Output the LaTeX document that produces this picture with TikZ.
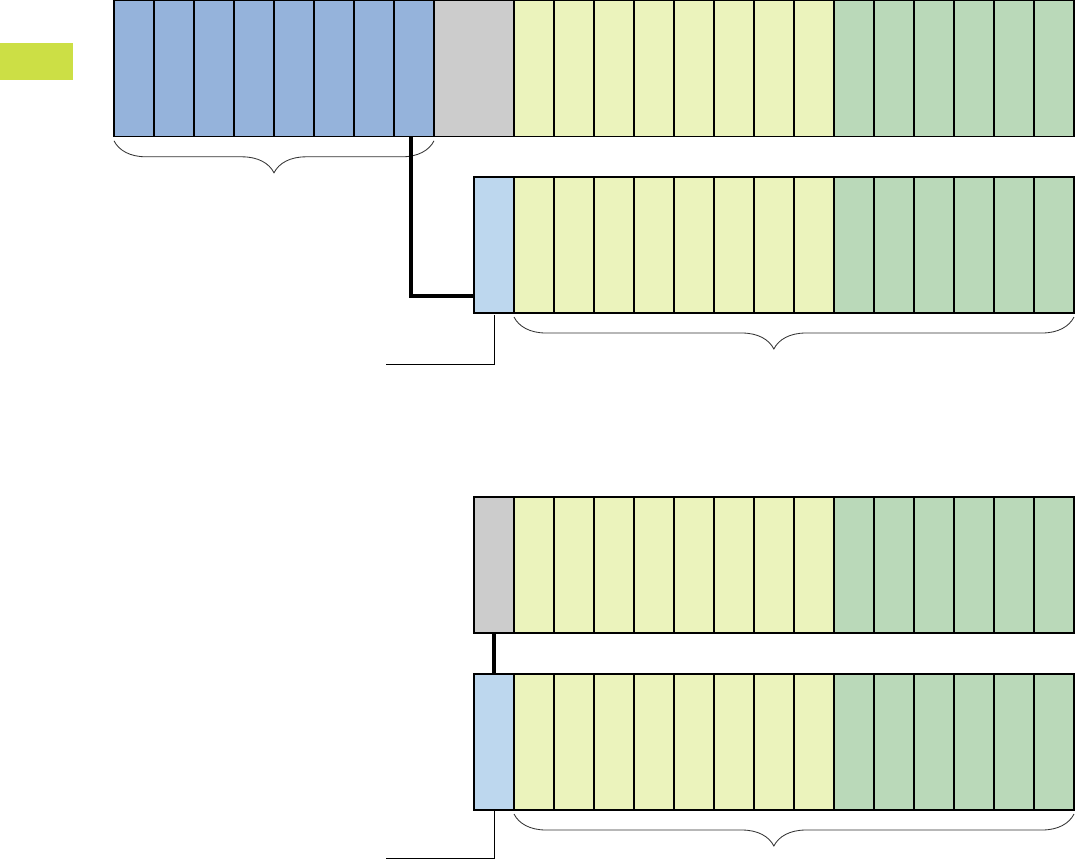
\documentclass[tikz,border=0pt]{standalone}
\usepackage{xcolor}
\definecolor{cblue}{RGB}{149,179,219}
\definecolor{lblue}{RGB}{189,215,238}
\definecolor{cgray}{RGB}{204,204,204}
\definecolor{cyellow}{RGB}{235,243,188}
\definecolor{cgreen}{RGB}{186,217,185}
\definecolor{tagcol}{RGB}{204,223,69}
\usetikzlibrary{calc,decorations.pathreplacing}

\begin{document}
\begin{tikzpicture}[
  cell/.style={rectangle,draw,line width=0.8pt,minimum width=1cm,minimum height=3.4cm,inner sep=0pt,outer sep=0pt,anchor=north west},
  link/.style={line width=2.2pt},
  lead/.style={line width=0.7pt},
  bracket/.style={decorate,decoration={brace,mirror,amplitude=0.8cm,aspect=#1},line width=0.6pt,draw=black!80},
  bracket/.default=0.5
]
  \useasboundingbox (0,0) rectangle (26.875,-21.55);

  % Marker
  \node[fill=tagcol,minimum width=1.825cm,minimum height=0.925cm,inner sep=0pt,anchor=north west] (tag) at (0,-1.075) {};

  % Row 1
  \foreach \i in {1,...,8}
    \node[cell,fill=cblue] (a\i) at ({2.85+\i-1},-0.02) {};
  \node[cell,fill=cgray,minimum width=2cm] (ag) at (10.85,-0.02) {};
  \foreach \i in {1,...,14}{
    \pgfmathsetmacro{\shade}{\i>8 ? "cgreen" : "cyellow"}
    \node[cell,fill=\shade] (at\i) at ({12.85+\i-1},-0.02) {};
  }

  % Rows 2 to 4
  \node[cell,fill=lblue] (b0) at (11.85,-4.425) {};
  \node[cell,fill=cgray] (c0) at (11.85,-12.425) {};
  \node[cell,fill=lblue] (d0) at (11.85,-16.85) {};
  \foreach \r/\y in {b/-4.425,c/-12.425,d/-16.85}
    \foreach \i in {1,...,14}{
      \pgfmathsetmacro{\shade}{\i>8 ? "cgreen" : "cyellow"}
      \node[cell,fill=\shade] (\r\i) at ({12.85+\i-1},\y) {};
    }

  % Braces
  \draw[bracket] ([yshift=-0.1cm]a1.south west) -- ([yshift=-0.1cm]a8.south east);
  \draw[bracket=0.464] ([yshift=-0.1cm]b1.south west) -- ([yshift=-0.1cm]b14.south east);
  \draw[bracket=0.464] ([yshift=-0.1cm]d1.south west) -- ([yshift=-0.1cm]d14.south east);

  % Connectors
  \draw[link] ([xshift=-0.075cm]a8.south) |- ([yshift=0.425cm]b0.south west);
  \draw[link] (c0.south) -- (d0.north);

  % Leader lines
  \coordinate (l1) at (9.65,-9.1);
  \coordinate (l2) at (9.65,-21.45);
  \draw[lead] ([yshift=-0.05cm]b0.south) |- (l1);
  \draw[lead] (d0.south) |- (l2);
\end{tikzpicture}
\end{document}
